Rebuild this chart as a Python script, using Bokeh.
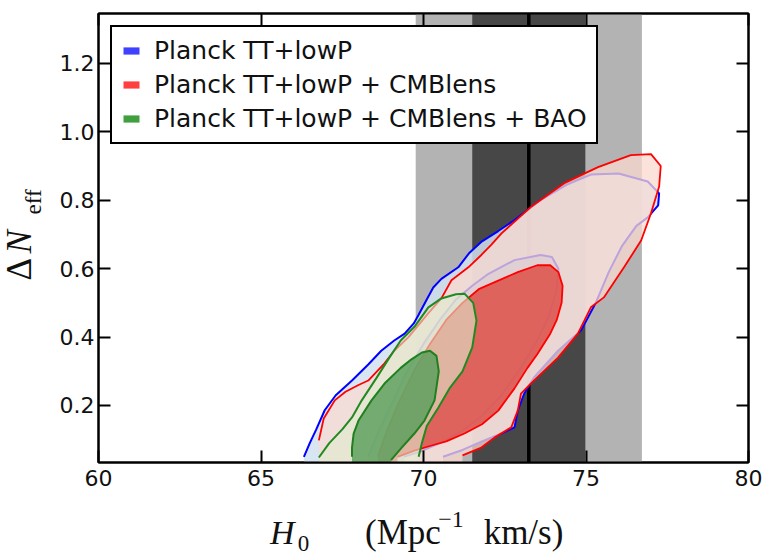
from math import pi
from bokeh.plotting import figure
from bokeh.layouts import row, column
from bokeh.models import (Range1d, LinearAxis, FixedTicker, Legend, LegendItem,
                          Label, BoxAnnotation, Span, PrintfTickFormatter)
from bokeh.embed import file_html
from bokeh.resources import INLINE

# ---------------- data ----------------
h0_local = 73.24      # local H0 measurement
h0_sigma = 1.74       # 1 sigma

x_ticks = [60, 65, 70, 75, 80]
y_ticks = [0.2, 0.4, 0.6, 0.8, 1.0, 1.2]

legend_labels = ["Planck TT+lowP",
                 "Planck TT+lowP + CMBlens",
                 "Planck TT+lowP + CMBlens + BAO"]

# Planck TT+lowP  (95% and 68% contours)
blue95_h0 = [66.32, 66.5, 66.7, 66.96, 67.3, 67.8, 68.3, 68.7, 69.1, 69.42, 69.7, 69.85, 70.1, 70.3,
             70.55, 71.07, 71.4, 71.8, 72.3, 72.8, 73.6, 74.4, 75.15, 76.0, 76.9, 77.25, 77.22, 76.9,
             76.55, 76.1, 75.7, 75.3, 74.85, 74.14, 73.4, 73.1, 72.9, 72.8, 72.4, 71.8, 71.2, 70.6]
blue95_dn = [0.05, 0.09, 0.13, 0.186, 0.23, 0.273, 0.32, 0.36, 0.39, 0.41, 0.44, 0.465, 0.51, 0.545,
             0.57, 0.604, 0.645, 0.68, 0.71, 0.742, 0.80, 0.845, 0.875, 0.878, 0.855, 0.82, 0.785, 0.75,
             0.725, 0.665, 0.59, 0.50, 0.42, 0.36, 0.282, 0.235, 0.185, 0.136, 0.118, 0.095, 0.07, 0.05]
blue68_h0 = [68.3, 68.6, 69.0, 69.5, 70.0, 70.5, 71.0, 71.5, 72.0, 72.8, 73.6, 73.95, 74.15, 74.1,
             73.85, 73.5, 73.0, 72.4, 71.8, 71.1, 70.5, 69.9, 69.4]
blue68_dn = [0.05, 0.12, 0.20, 0.30, 0.38, 0.45, 0.51, 0.55, 0.585, 0.625, 0.64, 0.634, 0.60, 0.54,
             0.46, 0.39, 0.31, 0.23, 0.17, 0.12, 0.09, 0.065, 0.05]

# Planck TT+lowP + CMBlens
red95_h0 = [66.78, 66.93, 67.27, 67.6, 68.0, 68.3, 68.8, 69.1, 69.54, 70.15, 70.55, 70.86, 71.38,
            71.78, 72.09, 72.4, 73.3, 74.33, 75.37, 76.38, 77.0, 77.3, 77.25, 77.0, 76.7, 76.17,
            75.55, 75.15, 74.75, 74.14, 73.3, 73.0, 72.9, 72.7, 72.18, 71.78, 71.2]
red95_dn = [0.098, 0.162, 0.215, 0.24, 0.26, 0.273, 0.323, 0.36, 0.40, 0.47, 0.513, 0.566, 0.604,
            0.64, 0.67, 0.703, 0.78, 0.85, 0.897, 0.932, 0.935, 0.90, 0.84, 0.762, 0.683, 0.604,
            0.516, 0.487, 0.41, 0.34, 0.264, 0.235, 0.185, 0.136, 0.106, 0.077, 0.054]
red68_h0 = [68.6, 68.85, 69.2, 69.7, 70.2, 70.7, 71.2, 71.7, 72.3, 72.9, 73.5, 73.9, 74.15, 74.28,
            74.25, 74.1, 73.9, 73.5, 73.2, 72.8, 72.3, 71.8, 71.26, 70.7, 70.25, 69.72, 69.2]
red68_dn = [0.05, 0.12, 0.20, 0.30, 0.38, 0.45, 0.50, 0.54, 0.565, 0.59, 0.61, 0.61, 0.59, 0.55,
            0.50, 0.45, 0.41, 0.35, 0.31, 0.25, 0.185, 0.145, 0.118, 0.095, 0.083, 0.068, 0.05]

# Planck TT+lowP + CMBlens + BAO
green95_h0 = [66.78, 67.1, 67.5, 67.8, 68.1, 68.55, 68.95, 69.3, 69.72, 70.15, 70.55, 71.0, 71.26,
              71.53, 71.63, 71.5, 71.2, 70.8, 70.46, 70.1, 69.95, 69.85]
green95_dn = [0.048, 0.09, 0.13, 0.165, 0.215, 0.28, 0.34, 0.39, 0.43, 0.487, 0.513, 0.525, 0.527,
              0.50, 0.448, 0.37, 0.30, 0.25, 0.194, 0.14, 0.09, 0.05]
green68_h0 = [67.8, 67.8, 67.85, 68.0, 68.4, 68.8, 69.3, 69.63, 69.95, 70.2, 70.4, 70.47, 70.34,
              70.03, 69.72, 69.33, 69.0]
green68_dn = [0.05, 0.077, 0.118, 0.156, 0.215, 0.264, 0.31, 0.335, 0.355, 0.36, 0.345, 0.30, 0.215,
              0.156, 0.118, 0.077, 0.04]

# ---------------- layout sizes ----------------
W, H = 765, 556
ylab_w = 56           # strip holding the y-axis title
xlab_h = 60           # strip holding the x-axis title
main_w, main_h = W - ylab_w, H - xlab_h

x_lo, x_hi = 60, 80
y_lo, y_hi = 0.0333, 1.346

p = figure(width=main_w, height=main_h, x_range=Range1d(x_lo, x_hi), y_range=Range1d(y_lo, y_hi),
           output_backend="svg", toolbar_location=None,
           min_border_left=40, min_border_right=17, min_border_top=13, min_border_bottom=34)
p.xgrid.visible = False
p.ygrid.visible = False
p.outline_line_color = "black"
p.outline_line_width = 2
p.outline_line_alpha = 1
p.background_fill_color = "white"
p.border_fill_color = "white"

p.add_layout(LinearAxis(), "above")
p.add_layout(LinearAxis(), "right")

for ax in p.xaxis:
    ax.ticker = FixedTicker(ticks=x_ticks)
    ax.formatter = PrintfTickFormatter(format="%d")
for ax in p.yaxis:
    ax.ticker = FixedTicker(ticks=y_ticks)
    ax.formatter = PrintfTickFormatter(format="%.1f")
for ax in list(p.xaxis) + list(p.yaxis):
    ax.axis_line_width = 2
    ax.axis_line_color = "black"
    ax.major_tick_in = 12
    ax.major_tick_out = 0
    ax.minor_tick_in = 0
    ax.minor_tick_out = 0
    ax.major_tick_line_width = 2
    ax.major_tick_line_color = "black"
    ax.major_label_text_font = "DejaVu Sans"
    ax.major_label_text_font_size = "22px"
    ax.major_label_text_color = "#111111"
p.below[0].major_label_standoff = 7
p.left[0].major_label_standoff = 4
p.above[0].major_label_overrides = {t: "" for t in x_ticks}
p.right[0].major_label_overrides = {t: "" for t in y_ticks}
for ax in (p.above[0], p.right[0]):
    ax.major_label_standoff = 0

# local H0 bands
p.add_layout(BoxAnnotation(left=h0_local - 2 * h0_sigma, right=h0_local + 2 * h0_sigma,
                           fill_color="#b3b3b3", fill_alpha=1, line_color=None, level="underlay"))
p.add_layout(BoxAnnotation(left=h0_local - h0_sigma, right=h0_local + h0_sigma,
                           fill_color="#474747", fill_alpha=1, line_color=None, level="underlay"))
p.add_layout(Span(location=h0_local, dimension="height", line_color="black",
                  line_width=3.5, level="underlay"))


def closed(xs, ys):
    floor = y_lo - 0.05
    return xs + [xs[-1], xs[0]], ys + [floor, floor]


def contour(x95, y95, x68, y68, fill95, a95, fill68, a68, line95, line68, lw):
    fx_, fy_ = closed(x95, y95)
    p.patch(fx_, fy_, fill_color=fill95, fill_alpha=a95, line_color=None)
    fx_, fy_ = closed(x68, y68)
    p.patch(fx_, fy_, fill_color=fill68, fill_alpha=a68, line_color=None)
    p.line(x95, y95, line_color=line95, line_width=lw)
    p.line(x68, y68, line_color=line68, line_width=lw)


contour(blue95_h0, blue95_dn, blue68_h0, blue68_dn,
        "#d1e0f1", 0.85, "#8fb0dc", 0.85, "#0000ff", "#0000ff", 2)
contour(red95_h0, red95_dn, red68_h0, red68_dn,
        "#fadad0", 0.75, "#de5650", 0.9, "#ff0000", "#ff0000", 1.8)
contour(green95_h0, green95_dn, green68_h0, green68_dn,
        "#dfeccf", 0.6, "#5ea05e", 0.85, "#1f8a1f", "#1f801f", 2)

# legend (swatches only: a NaN quad is never drawn in the plot area)
legend_colors = ["#0000ff", "#ff0000", "#008000"]
nan = float("nan")
items = []
for lab, col in zip(legend_labels, legend_colors):
    r = p.quad(left=[nan], right=[nan], top=[nan], bottom=[nan],
               fill_color=col, fill_alpha=0.75, line_color=None)
    items.append(LegendItem(label=lab, renderers=[r]))
legend = Legend(items=items, location="top_left", margin=12, padding=9, spacing=5,
                border_line_color="black", border_line_width=2, border_line_alpha=1,
                background_fill_color="white", background_fill_alpha=1,
                label_text_font="DejaVu Sans", label_text_font_size="25px",
                label_text_color="#111111",
                glyph_width=20, glyph_height=9, label_standoff=13, label_height=25)
p.add_layout(legend)


def strip(w, h, xr, yr):
    f = figure(width=w, height=h, x_range=xr, y_range=yr,
               output_backend="svg", toolbar_location=None, min_border=0,
               x_axis_location=None, y_axis_location=None)
    f.grid.visible = False
    f.outline_line_color = None
    f.background_fill_color = "white"
    f.border_fill_color = "white"
    return f


serif = "Liberation Serif"

# x-axis title strip: x in H0 units (frame aligned with the main plot), y in pixels
fx = strip(main_w, xlab_h, Range1d(x_lo, x_hi), Range1d(0, xlab_h))
for txt, x, y, size, style in [("H", 65.28, 24, "34px", "italic"),
                               ("0", 66.13, 13, "23px", "normal"),
                               ("(Mpc", 68.2, 24, "35px", "normal"),
                               ("\u22121", 70.45, 37, "24px", "normal"),
                               ("km/s)", 71.85, 24, "35px", "normal")]:
    fx.add_layout(Label(x=x, y=y, text=txt, text_font=serif, text_font_style=style,
                        text_font_size=size, text_baseline="alphabetic", text_align="left",
                        text_color="#111111"))

# y-axis title strip (pixels)
fy = strip(ylab_w, H, Range1d(0, ylab_w), Range1d(0, H))
for txt, x, y, size, style in [("\u0394", 19, 276, "35px", "normal"),
                               ("N", 19, 303, "35px", "italic"),
                               ("eff", 33, 342, "23px", "normal")]:
    fy.add_layout(Label(x=x, y=y, text=txt, text_font=serif, text_font_style=style, angle=pi / 2,
                        text_font_size=size, text_baseline="alphabetic", text_align="left",
                        text_color="#111111"))

layout = row(fy, column(p, fx, spacing=0), spacing=0)
open("out.html", "w").write(file_html(layout, INLINE))
